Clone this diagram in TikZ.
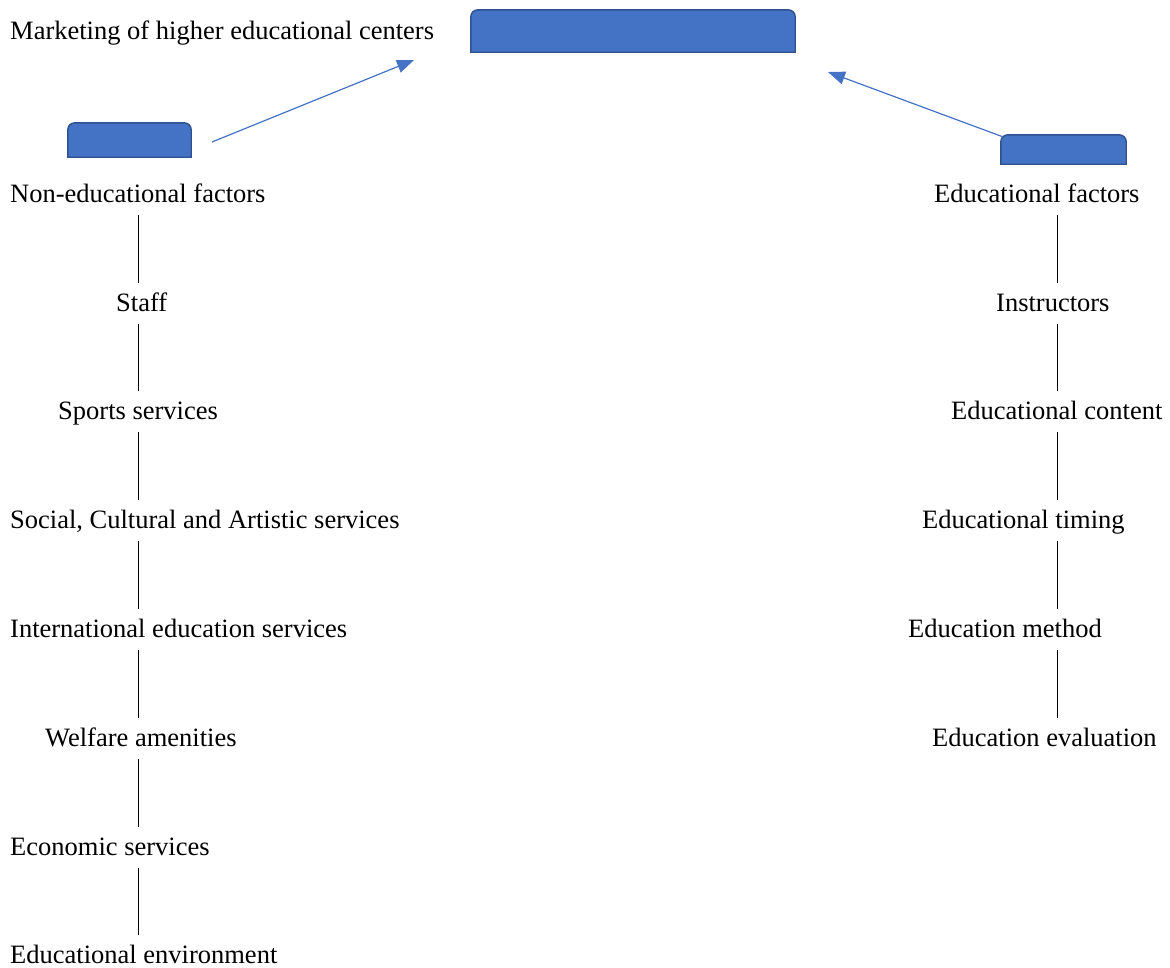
\documentclass[tikz,border=0pt]{standalone}
\usepackage{fontspec}
\setmainfont{Liberation Serif}
\usetikzlibrary{arrows.meta}
\definecolor{boxfill}{HTML}{4472C4}
\definecolor{boxedge}{HTML}{2F528F}
\begin{document}
\begin{tikzpicture}[x=1pt,y=-1pt,
  lbl/.style={anchor=base west,inner xsep=0pt,inner ysep=0pt,
    text height=28pt,text depth=13pt,
    font=\fontsize{26.5}{30}\selectfont},
  slot/.style={inner sep=0pt,minimum width=#1},
  tab/.style={fill=boxfill,draw=boxedge,line width=1.4pt},
  link/.style={draw=black,line width=0.9pt},
  pointer/.style={draw=boxfill,line width=1.2pt,
    -{Triangle[length=17pt,width=13pt]}}]
\useasboundingbox (0,0) rectangle (1170,967);

% tab-shaped boxes: rounded on top only
\node[slot=324pt,minimum height=42pt] (top) at (633,31) {};
\node[slot=123pt,minimum height=34pt] (lbox) at (129.5,140) {};
\node[slot=125pt,minimum height=29pt] (rbox) at (1063.5,149.5) {};
\foreach \b in {top,lbox,rbox}{
  \draw[tab] (\b.south west) [rounded corners=7pt] -- (\b.north west)
    -- (\b.north east) [sharp corners] -- (\b.south east) -- cycle;
}

% title
\node[lbl] (title) at (10,39) {Marketing of higher educational centers};

% left column
\node[lbl] (l1) at (10,202) {Non-educational factors};
\node[lbl] (l2) at (116,311) {Staff};
\node[lbl] (l3) at (58,419) {Sports services};
\node[lbl] (l4) at (10,528) {Social, Cultural and Artistic services};
\node[lbl] (l5) at (10,637) {International education services};
\node[lbl] (l6) at (45,746) {Welfare amenities};
\node[lbl] (l7) at (10,855) {Economic services};
\node[lbl,text depth=2pt] (l8) at (10,963) {Educational environment};

% right column
\node[lbl] (r1) at (934,202) {Educational factors};
\node[lbl] (r2) at (996,311) {Instructors};
\node[lbl] (r3) at (951,419) {Educational content};
\node[lbl] (r4) at (922,528) {Educational timing};
\node[lbl] (r5) at (908,637) {Education method};
\node[lbl] (r6) at (932,746) {Education evaluation};

% column axes
\coordinate (L) at (138,0);
\coordinate (R) at (1057,0);
\foreach \a/\b in {l1/l2,l2/l3,l3/l4,l4/l5,l5/l6,l6/l7,l7/l8}{
  \draw[link] (\a.south -| L) -- (\b.north -| L);
}
\foreach \a/\b in {r1/r2,r2/r3,r3/r4,r4/r5,r5/r6}{
  \draw[link] (\a.south -| R) -- (\b.north -| R);
}

% arrows towards the title box
\coordinate (lstart) at (212,142);
\coordinate (lend) at (414,60);
\coordinate (rend) at (828,72);
\draw[pointer] (lstart) -- (lend);
\draw[pointer] ([shift={(2pt,-2pt)}]rbox.north west) -- (rend);
\end{tikzpicture}
\end{document}
